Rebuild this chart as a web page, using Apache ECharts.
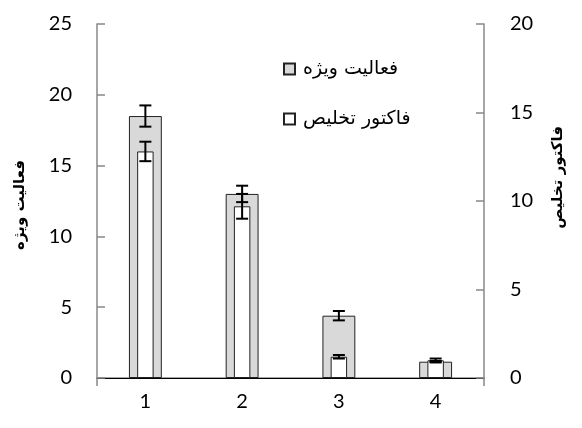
<!DOCTYPE html>
<html>
<head>
<meta charset="utf-8">
<script src="https://cdn.jsdelivr.net/npm/echarts@6/dist/echarts.min.js"></script>
<style>html,body{margin:0;padding:0;background:#fff}#c{width:582px;height:428px}</style>
</head>
<body>
<div id="c"></div>
<script>
var categories = ['1', '2', '3', '4'];
var activityName = 'فعالیت ویژه';
var purificationName = 'فاکتور تخلیص';
var activity = [18.5, 13.0, 4.4, 1.15];
var activityErr = [0.75, 0.58, 0.33, 0.05];
var purification = [12.8, 9.7, 1.2, 1.0];
var purificationErr = [0.55, 0.7, 0.1, 0.1];
var leftTicks = [0, 25, 5];
var rightTicks = [0, 20, 5];

var numFont = 'Lato';
var arFont = 'DejaVu Sans';
var arBoldFont = 'DejaVu Sans';

function errData(vals, errs) {
  return vals.map(function (v, i) { return [i, v, errs[i]]; });
}
function errRender(params, api) {
  var x = api.value(0), y = api.value(1), e = api.value(2);
  var top = api.coord([x, y + e]);
  var bot = api.coord([x, y - e]);
  var hw = 6;
  var st = { stroke: '#000', lineWidth: 2 };
  return {
    type: 'group',
    children: [
      { type: 'line', shape: { x1: top[0], y1: top[1], x2: bot[0], y2: bot[1] }, style: st },
      { type: 'line', shape: { x1: top[0] - hw, y1: top[1], x2: top[0] + hw, y2: top[1] }, style: st },
      { type: 'line', shape: { x1: bot[0] - hw, y1: bot[1], x2: bot[0] + hw, y2: bot[1] }, style: st }
    ]
  };
}

var chart = echarts.init(document.getElementById('c'));
chart.setOption({
  animation: false,
  backgroundColor: '#fff',
  grid: { left: 97, right: 98, top: 24, bottom: 50 },
  legend: {
    orient: 'vertical',
    left: 283, top: 58, padding: 0,
    itemWidth: 11, itemHeight: 11,
    itemGap: 28,
    data: [
      { name: activityName, icon: 'rect' },
      { name: purificationName, icon: 'rect' }
    ],
    textStyle: { fontFamily: arFont, fontSize: 19, color: '#000', lineHeight: 22, padding: [0, 0, 0, 3] }
  },
  xAxis: [
    {
      type: 'category', data: categories, position: 'bottom',
      axisLine: { lineStyle: { color: '#888', width: 1.5 } },
      axisTick: { show: true, length: 8, interval: function (i) { return i === 0; }, lineStyle: { color: '#888', width: 1.5 } },
      axisLabel: { fontFamily: numFont, fontSize: 20, color: '#000', margin: 14 },
      splitLine: { show: false }
    },
    {
      type: 'category', data: categories, position: 'top',
      axisLine: { show: true, lineStyle: { color: '#000', width: 1.2 } },
      axisTick: { show: false }, axisLabel: { show: false }, splitLine: { show: false }
    }
  ],
  yAxis: [
    {
      type: 'value', min: leftTicks[0], max: leftTicks[1], interval: leftTicks[2], position: 'left',
      axisLine: { show: true, lineStyle: { color: '#888', width: 1.5 } },
      axisTick: { show: true, inside: true, length: 8, lineStyle: { color: '#888', width: 1.5 } },
      axisLabel: { fontFamily: numFont, fontSize: 20, color: '#000', margin: 25 },
      splitLine: { show: false }
    },
    {
      type: 'value', min: rightTicks[0], max: rightTicks[1], interval: rightTicks[2], position: 'right',
      axisLine: { show: true, lineStyle: { color: '#888', width: 1.5 } },
      axisTick: { show: true, inside: true, length: 8, lineStyle: { color: '#888', width: 1.5 } },
      axisLabel: { fontFamily: numFont, fontSize: 20, color: '#000', margin: 26 },
      splitLine: { show: false }
    }
  ],
  graphic: [
    { type: 'text', left: 13, top: 160, rotation: Math.PI / 2,
      style: { text: activityName, fontFamily: arBoldFont, fontSize: 15, fontWeight: 'bold', fill: '#000' } },
    { type: 'text', left: 551, top: 126, rotation: Math.PI / 2,
      style: { text: purificationName, fontFamily: arBoldFont, fontSize: 15, fontWeight: 'bold', fill: '#000' } }
  ],
  series: [
    {
      name: activityName, type: 'bar', xAxisIndex: 0, yAxisIndex: 0, data: activity,
      barWidth: '34%', z: 2,
      itemStyle: { color: '#d9d9d9', borderColor: '#222', borderWidth: 1 }
    },
    {
      type: 'custom', xAxisIndex: 0, yAxisIndex: 0, data: errData(activity, activityErr),
      renderItem: errRender, z: 5, silent: true
    },
    {
      name: purificationName, type: 'bar', xAxisIndex: 1, yAxisIndex: 1, data: purification,
      barWidth: '17%', z: 3,
      itemStyle: { color: '#fff', borderColor: '#222', borderWidth: 1 }
    },
    {
      type: 'custom', xAxisIndex: 1, yAxisIndex: 1, data: errData(purification, purificationErr),
      renderItem: errRender, z: 5, silent: true
    }
  ]
});
</script>
</body>
</html>
